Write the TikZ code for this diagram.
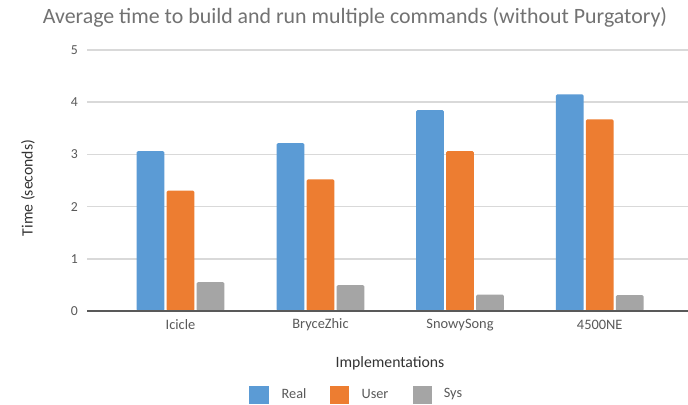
\documentclass[tikz,border=0pt]{standalone}
\usepackage{fontspec}
\setmainfont{Carlito}
\usetikzlibrary{positioning}
\definecolor{realblue}{HTML}{5B9BD5}
\definecolor{userorange}{HTML}{ED7D31}
\definecolor{sysgray}{HTML}{A5A5A5}
\definecolor{gridgray}{HTML}{D9D9D9}
\definecolor{textgray}{HTML}{595959}

\begin{document}
\begin{tikzpicture}[
  x=0.75pt, y=-0.75pt,
  grid/.style={draw=gridgray, line width=1.3pt},
  axisline/.style={draw=textgray, line width=1.5pt},
  real/.style={fill=realblue, rounded corners=1pt},
  user/.style={fill=userorange, rounded corners=1pt},
  sys/.style={fill=sysgray, rounded corners=1pt},
  tick/.style={text=textgray, font=\fontsize{10.3}{12}\selectfont, anchor=east, inner sep=0pt},
  catlabel/.style={text=textgray, font=\fontsize{10.8}{13}\selectfont, inner sep=0pt},
  title/.style={text=textgray!85, font=\fontsize{16.4}{19}\selectfont, inner sep=0pt},
  axistitle/.style={text=black!80, font=\fontsize{11.8}{14}\selectfont, inner sep=0pt},
  legtext/.style={text=textgray, font=\fontsize{10.7}{13}\selectfont, inner sep=0pt}
]
  \useasboundingbox (0,0) rectangle (688,404);
  \fill[white] (0,0) rectangle (688,404);

  % title
  \node[title] (title) at (355,17) {Average time to build and run multiple commands (without Purgatory)};

  % grid
  \draw[grid] (87,50) -- (688,50);
  \draw[grid] (87,102.2) -- (688,102.2);
  \draw[grid] (87,154.4) -- (688,154.4);
  \draw[grid] (87,206.6) -- (688,206.6);
  \draw[grid] (87,258.8) -- (688,258.8);

  % ticks
  \node[tick] (t5) at (78,50) {5};
  \node[tick] (t4) at (78,102.2) {4};
  \node[tick] (t3) at (78,154.4) {3};
  \node[tick] (t2) at (78,206.6) {2};
  \node[tick] (t1) at (78,258.8) {1};
  \node[tick] (t0) at (78,311) {0};

  % bars
  \fill[real] (136.7,311) rectangle (164.3,151);
  \fill[user] (166.7,311) rectangle (194.3,190.7);
  \fill[sys]  (196.7,311) rectangle (224.3,282);

  \fill[real] (276.7,311) rectangle (304.3,143);
  \fill[user] (306.7,311) rectangle (334.3,179.3);
  \fill[sys]  (336.7,311) rectangle (364.3,285);

  \fill[real] (416.2,311) rectangle (443.8,110);
  \fill[user] (446.2,311) rectangle (473.8,151);
  \fill[sys]  (476.2,311) rectangle (503.8,294.7);

  \fill[real] (555.9,311) rectangle (583.5,94.3);
  \fill[user] (585.9,311) rectangle (613.5,119.3);
  \fill[sys]  (615.9,311) rectangle (643.5,295);

  \draw[axisline] (87,311) -- (688,311);

  % categories
  \node[catlabel] (icicle) at (180.5,325) {Icicle};
  \node[catlabel] (bryce) at (320.5,325) {BryceZhic};
  \node[catlabel] (snowy) at (460,325) {SnowySong};
  \node[catlabel] (ne) at (599.7,325) {4500NE};

  % axis titles
  \node[axistitle] (xtitle) at (390,363) {Implementations};
  \node[axistitle, rotate=90] (ytitle) at (28,188) {Time (seconds)};

  % legend
  \fill[realblue] (249.3,386) rectangle (268.7,404);
  \node[legtext] (lreal) at (294,394) {Real};
  \fill[userorange] (330,386) rectangle (349.3,404);
  \node[legtext] (luser) at (375,394) {User};
  \fill[sysgray] (413.3,386) rectangle (431.7,404);
  \node[legtext] (lsys) at (453,394) {Sys};
\end{tikzpicture}
\end{document}
